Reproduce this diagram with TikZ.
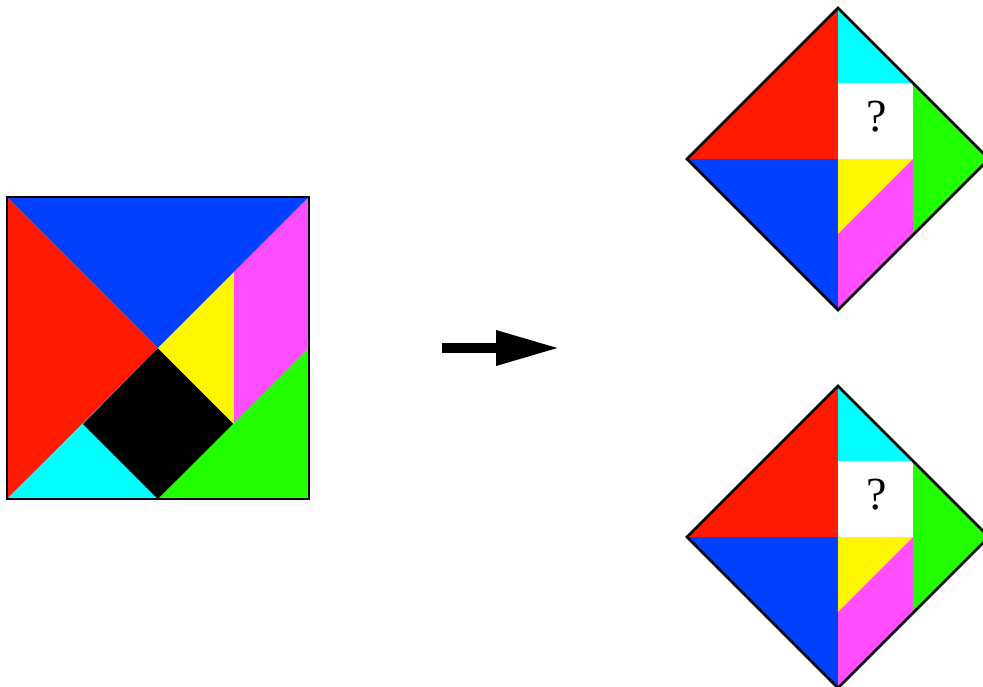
\documentclass[tikz,border=0pt]{standalone}
\usepackage{fontspec}
\newfontfamily\qfont{Liberation Serif}
\usetikzlibrary{arrows.meta}
\definecolor{tred}{RGB}{255,26,0}
\definecolor{tblue}{RGB}{0,64,255}
\definecolor{tmag}{RGB}{255,77,255}
\definecolor{tyel}{RGB}{255,247,0}
\definecolor{tgreen}{RGB}{34,255,0}
\definecolor{tcyan}{RGB}{0,255,255}
\tikzset{
  outline/.style={draw=black, line width=2.6pt, line join=miter},
  qmark/.style={inner sep=0pt, font=\qfont\fontsize{46}{50}\selectfont},
}
\begin{document}
\begin{tikzpicture}[x=1pt,y=-1pt]
\useasboundingbox (0,0) rectangle (983,686);
\clip (0,0) rectangle (983,686);
% left square
\fill[tblue] (7,197) -- (309,197) -- (158,348) -- cycle;
\fill[tred] (7,197) -- (158,348) -- (7,499) -- cycle;
\fill[tcyan] (7,499) -- (83,424) -- (158,499) -- cycle;
\fill[black] (83,424) -- (158,348) -- (234,424) -- (158,499) -- cycle;
\fill[tyel] (158,348) -- (234,272) -- (234,424) -- cycle;
\fill[tmag] (234,272) -- (309,197) -- (309,348) -- (234,424) -- cycle;
\fill[tgreen] (158,499) -- (309,348) -- (309,499) -- cycle;
\draw[outline] (7,197) rectangle (309,499);
% arrow
\coordinate (as) at (442,348);
\coordinate (ae) at (560,348);
\draw[line width=10.7pt, -{Triangle[length=64pt,width=32.6pt]}] (as) -- (ae);
% diamonds
\foreach \dy/\nm in {0/qa, 378/qb}{
\begin{scope}[yshift=-\dy pt]
\fill[tred] (687,159) -- (838,8) -- (838,159) -- cycle;
\fill[tblue] (687,159) -- (838,159) -- (838,310) -- cycle;
\fill[tcyan] (838,8) -- (913,83) -- (838,83) -- cycle;
\fill[white] (838,83) rectangle (913,159);
\fill[tgreen] (913,83) -- (989,159) -- (913,234) -- cycle;
\fill[tyel] (838,159) -- (913,159) -- (838,234) -- cycle;
\fill[tmag] (838,234) -- (913,159) -- (913,234) -- (838,310) -- cycle;
\draw[outline] (687,159) -- (838,8) -- (989,159) -- (838,310) -- cycle;
\node[qmark] (\nm) at (877,117) {?};
\end{scope}
}
\end{tikzpicture}
\end{document}
